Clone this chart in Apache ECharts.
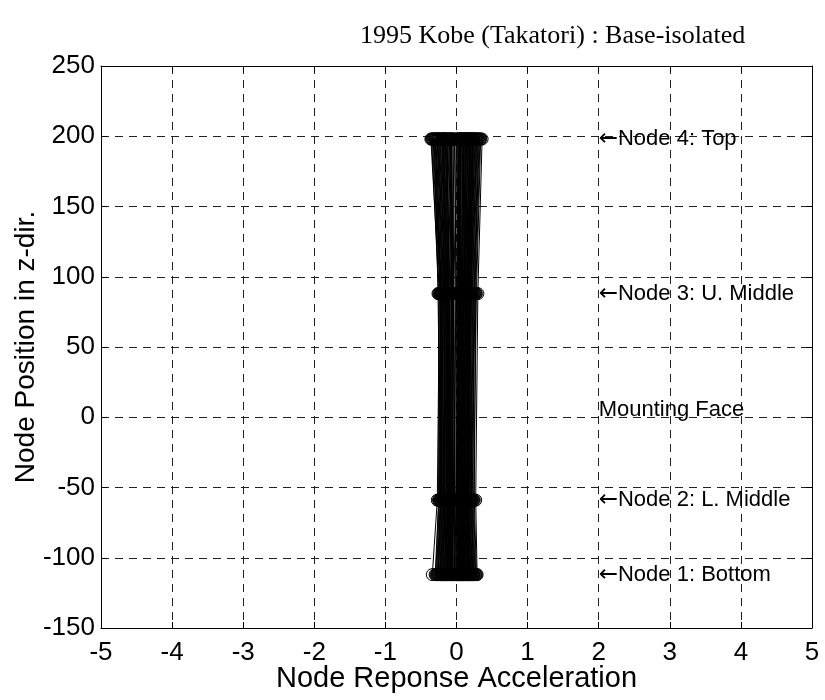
<!DOCTYPE html>
<html>
<head>
<meta charset="utf-8">
<title>1995 Kobe (Takatori) : Base-isolated</title>
<script src="https://cdn.jsdelivr.net/npm/echarts@6/dist/echarts.min.js"></script>
<style>
  html, body { margin: 0; padding: 0; background: #fff; }
  #chart { width: 825px; height: 700px; }
</style>
</head>
<body>
<div id="chart"></div>
<script>
// Node heights along the z-direction
const nodeZ = [-112, -59, 88, 198];

// Response acceleration at each node, one entry per time step
const node1Acc = [
  0.02,-0.05,0.11,-0.14,0.07,0.18,-0.21,0.04,-0.09,0.13,
  -0.02,0.24,-0.34,0.09,-0.17,0.29,-0.06,0.15,-0.11,0.01,
  -0.26,0.20,-0.13,0.06,0.10,-0.08,0.16,-0.19,0.03,-0.03,
  0.22,-0.28,0.12,-0.15,0.08,-0.01,0.19,-0.23,0.05,-0.10,
  0.14,-0.07,0.26,-0.30,0.00,0.09,-0.12,0.17,-0.04,0.21,
  -0.18,0.12,-0.24,0.06,0.23,-0.16,0.03,-0.20,0.14,-0.09,
  0.25,-0.27,0.08,0.18,-0.11,0.02,-0.22,0.16,-0.06,0.27,
  -0.15,0.10,-0.25,0.05,0.20,-0.13,0.13,-0.19,0.01,-0.29,
  0.22,-0.08,0.15,-0.21,0.07,0.24,-0.17,0.04,-0.12,0.19,
  -0.02,0.11,-0.26,0.17,-0.07,0.28,-0.14,0.09,-0.23,0.03
];
const node2Acc = [
  0.01,-0.04,0.09,-0.12,0.06,0.15,-0.18,0.05,-0.08,0.11,
  -0.03,0.21,-0.27,0.07,-0.14,0.27,-0.05,0.13,-0.10,0.02,
  -0.22,0.17,-0.11,0.04,0.08,-0.07,0.14,-0.16,0.02,-0.02,
  0.19,-0.24,0.10,-0.13,0.06,0.00,0.16,-0.20,0.04,-0.09,
  0.12,-0.06,0.23,-0.25,0.01,0.07,-0.10,0.15,-0.03,0.18,
  -0.16,0.10,-0.21,0.05,0.20,-0.14,0.02,-0.17,0.12,-0.08,
  0.22,-0.23,0.07,0.16,-0.09,0.01,-0.19,0.14,-0.05,0.24,
  -0.13,0.09,-0.22,0.04,0.17,-0.11,0.11,-0.17,0.00,-0.25,
  0.19,-0.07,0.13,-0.18,0.06,0.21,-0.15,0.03,-0.10,0.16,
  -0.01,0.10,-0.22,0.15,-0.06,0.25,-0.12,0.08,-0.20,0.02
];
const node3Acc = [
  0.03,-0.06,0.10,-0.13,0.08,0.17,-0.16,0.02,-0.10,0.12,
  -0.01,0.22,-0.24,0.08,-0.15,0.30,-0.07,0.14,-0.12,0.03,
  -0.26,0.19,-0.09,0.05,0.11,-0.06,0.17,-0.18,0.04,-0.04,
  0.21,-0.22,0.13,-0.14,0.07,0.01,0.18,-0.20,0.06,-0.08,
  0.15,-0.05,0.25,-0.23,0.02,0.10,-0.11,0.16,-0.02,0.20,
  -0.17,0.13,-0.21,0.07,0.24,-0.15,0.04,-0.18,0.15,-0.07,
  0.26,-0.22,0.09,0.19,-0.10,0.03,-0.20,0.17,-0.04,0.28,
  -0.14,0.11,-0.23,0.06,0.21,-0.12,0.14,-0.17,0.02,-0.25,
  0.23,-0.06,0.16,-0.19,0.08,0.25,-0.16,0.05,-0.11,0.20,
  0.00,0.12,-0.21,0.18,-0.05,0.27,-0.13,0.10,-0.22,0.04
];
const node4Acc = [
  0.04,-0.08,0.14,-0.18,0.10,0.22,-0.24,0.03,-0.13,0.16,
  -0.02,0.28,-0.36,0.11,-0.20,0.36,-0.09,0.18,-0.15,0.04,
  -0.31,0.24,-0.14,0.07,0.13,-0.10,0.21,-0.25,0.05,-0.05,
  0.27,-0.33,0.15,-0.19,0.09,0.00,0.23,-0.27,0.06,-0.12,
  0.19,-0.07,0.32,-0.34,0.02,0.12,-0.16,0.20,-0.05,0.26,
  -0.22,0.16,-0.29,0.08,0.29,-0.20,0.04,-0.25,0.18,-0.11,
  0.31,-0.30,0.10,0.23,-0.14,0.03,-0.27,0.20,-0.07,0.34,
  -0.19,0.13,-0.30,0.06,0.25,-0.17,0.17,-0.23,0.01,-0.35,
  0.28,-0.09,0.19,-0.26,0.09,0.30,-0.21,0.05,-0.15,0.24,
  -0.03,0.14,-0.32,0.22,-0.08,0.33,-0.18,0.11,-0.28,0.04
];

// Annotation texts placed at x = 2
const noteX = 2;
const noteTexts = ['\u2190Node 1: Bottom', '\u2190Node 2: L. Middle', 'Mounting Face', '\u2190Node 3: U. Middle', '\u2190Node 4: Top'];
const noteZ = [-112, -59, 5, 88, 198];

// Axis ticks
const xTicks = { min: -5, max: 5, interval: 1 };
const yTicks = { min: -150, max: 250, interval: 50 };

const nodeSeries = [node1Acc, node2Acc, node3Acc, node4Acc];
const steps = node1Acc.length;

const series = [];
for (let t = 0; t < steps; t++) {
  series.push({
    type: 'line',
    xAxisIndex: 0,
    yAxisIndex: 0,
    data: nodeZ.map((z, k) => [nodeSeries[k][t], z]),
    symbol: 'circle',
    symbolSize: 12,
    showSymbol: true,
    itemStyle: { color: 'rgba(0,0,0,0)', borderColor: '#000', borderWidth: 1 },
    lineStyle: { color: '#000', width: 1 },
    silent: true,
    z: 3
  });
}

const fontSans = 'Liberation Sans, Arial, sans-serif';

series.push({
  type: 'scatter',
  xAxisIndex: 0,
  yAxisIndex: 0,
  symbolSize: 0,
  itemStyle: { opacity: 1 },
  data: noteZ.map((z, i) => ({ value: [noteX, z], name: noteTexts[i] })),
  label: {
    show: true,
    position: [0, 0],
    align: 'left',
    verticalAlign: 'middle',
    opacity: 1,
    formatter: p => p.name.charAt(0) === '\u2190'
      ? '{a|\u2190}{t|' + p.name.slice(1) + '}'
      : '{t|' + p.name + '}',
    rich: {
      a: { fontFamily: 'DejaVu Sans, sans-serif', fontSize: 23, color: '#000' },
      t: { fontFamily: fontSans, fontSize: 22, color: '#000' }
    }
  },
  silent: true,
  z: 5
});

const gridLine = { show: true, lineStyle: { color: '#222', type: [8, 6], width: 1 } };
const tickStyle = { show: true, inside: true, length: 6, lineStyle: { color: '#000' } };
const boxLine = { show: true, onZero: false, lineStyle: { color: '#000', width: 1 } };

const chart = echarts.init(document.getElementById('chart'), null, { renderer: 'canvas' });
chart.setOption({
  animation: false,
  backgroundColor: '#fff',
  title: {
    text: '1995 Kobe (Takatori) : Base-isolated',
    left: 355,
    top: 18,
    textStyle: { fontFamily: 'Liberation Serif, Times New Roman, serif', fontSize: 26, fontWeight: 'normal', color: '#000' }
  },
  grid: { left: 101, right: 13, top: 66, bottom: 72, containLabel: false, outerBoundsMode: 'none' },
  xAxis: [{
    type: 'value',
    position: 'bottom',
    min: xTicks.min, max: xTicks.max, interval: xTicks.interval,
    name: 'Node Reponse Acceleration',
    nameLocation: 'middle',
    nameGap: 36,
    nameMoveOverlap: false,
    nameTextStyle: { fontFamily: fontSans, fontSize: 29, color: '#000' },
    axisLine: boxLine,
    axisTick: tickStyle,
    axisLabel: { fontFamily: fontSans, fontSize: 26, color: '#000', margin: 12 },
    splitLine: gridLine
  }, {
    type: 'value',
    position: 'top',
    min: xTicks.min, max: xTicks.max, interval: xTicks.interval,
    axisLine: boxLine,
    axisTick: tickStyle,
    axisLabel: { show: false },
    splitLine: { show: false }
  }],
  yAxis: [{
    type: 'value',
    position: 'left',
    min: yTicks.min, max: yTicks.max, interval: yTicks.interval,
    name: 'Node Position in z-dir.',
    nameLocation: 'middle',
    nameGap: 61,
    nameMoveOverlap: false,
    nameRotate: 90,
    nameTextStyle: { fontFamily: fontSans, fontSize: 28, color: '#000' },
    axisLine: boxLine,
    axisTick: tickStyle,
    axisLabel: { fontFamily: fontSans, fontSize: 26, color: '#000', margin: 6 },
    splitLine: gridLine
  }, {
    type: 'value',
    position: 'right',
    min: yTicks.min, max: yTicks.max, interval: yTicks.interval,
    axisLine: boxLine,
    axisTick: tickStyle,
    axisLabel: { show: false },
    splitLine: { show: false }
  }],
  series: series
});
</script>
</body>
</html>
